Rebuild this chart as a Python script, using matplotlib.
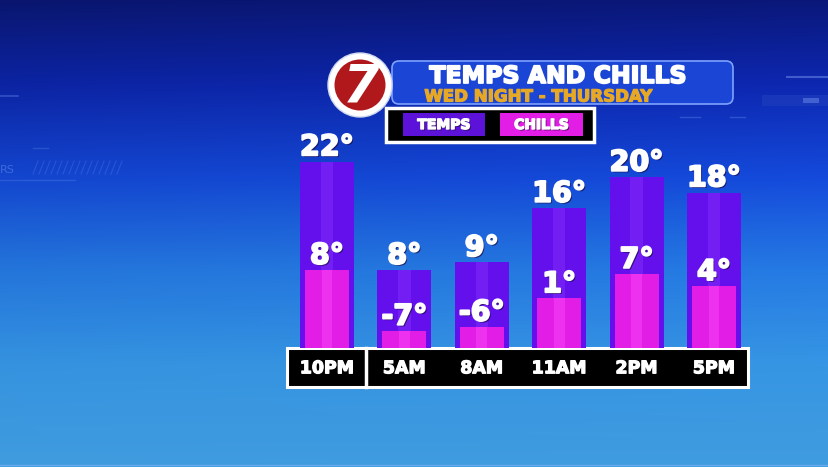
import numpy as np
import matplotlib
matplotlib.use("Agg")
import matplotlib.pyplot as plt
from matplotlib.patches import Rectangle, FancyBboxPatch, Circle
import matplotlib.patheffects as pe

# ---------------- data ----------------
times = ["10PM", "5AM", "8AM", "11AM", "2PM", "5PM"]
temps = [22, 8, 9, 16, 20, 18]
chills = [8, -7, -6, 1, 7, 4]
title = "TEMPS AND CHILLS"
subtitle = "WED NIGHT - THURSDAY"
legend_labels = ["TEMPS", "CHILLS"]

TEMP_COLOR = "#6410ec"
CHILL_COLOR = "#e21ee6"

W, H = 829, 467
fig = plt.figure(figsize=(W / 100, H / 100), dpi=100)

# ---------------- background ----------------
bg = fig.add_axes([0, 0, 1, 1])
bg.set_xlim(0, W)
bg.set_ylim(H, 0)
bg.axis("off")
stops_y = np.array([0.0, 0.18, 0.38, 0.58, 0.78, 1.0])
stops_c = np.array([
    [0.04, 0.09, 0.46],
    [0.05, 0.15, 0.68],
    [0.08, 0.29, 0.86],
    [0.15, 0.49, 0.91],
    [0.22, 0.61, 0.93],
    [0.27, 0.65, 0.93],
])
yy = np.linspace(0, 1, H)
xx = np.linspace(0, 1, W)
img = np.zeros((H, W, 3))
for k in range(3):
    col = np.interp(yy, stops_y, stops_c[:, k])
    img[:, :, k] = col[:, None]
img *= (0.94 + 0.1 * xx[None, :, None] * (1 - yy[:, None, None]))
img = np.clip(img, 0, 1)
bg.imshow(img, extent=[0, W, H, 0], aspect="auto", zorder=0)

# faint decorative elements
bg.plot([0, 18], [96, 96], color="#8fb0ff", alpha=0.3, lw=1.2)
bg.plot([0, 75], [180, 180], color="#8fb0ff", alpha=0.2, lw=1)
bg.plot([33, 48], [148, 148], color="#8fb0ff", alpha=0.2, lw=1)
bg.text(0, 170, "RS", color="#8fb0ff", alpha=0.35, fontsize=8, va="center")
for hx in np.arange(33, 118, 6):
    bg.plot([hx, hx + 5], [174, 161], color="#8fb0ff", alpha=0.18, lw=0.8)
bg.plot([787, 829], [77, 77], color="#8fb0ff", alpha=0.4, lw=1.5)
bg.add_patch(Rectangle((762, 95), 67, 11, color="#3050c0", alpha=0.3, lw=0))
bg.add_patch(Rectangle((803, 98), 16, 5, color="#8fb0ff", alpha=0.35, lw=0))
bg.plot([680, 700], [117, 117], color="#8fb0ff", alpha=0.25, lw=1)
bg.plot([730, 745], [117, 117], color="#8fb0ff", alpha=0.25, lw=1)
bg.plot([0, W], [465, 465], color="#a0c8ff", alpha=0.4, lw=1)

# ---------------- title panel ----------------
bg.add_patch(FancyBboxPatch((392, 61), 341, 43,
                            boxstyle="round,pad=0,rounding_size=7",
                            facecolor="#1b45d4", edgecolor="#7ea2ff", lw=1.2, zorder=2))
bg.text(558, 83, title, color="white", fontsize=17, fontweight="bold",
        ha="center", va="baseline", zorder=3,
        path_effects=[pe.withStroke(linewidth=1.3, foreground="white")])
bg.text(538, 101.5, subtitle, color="#e6a825", fontsize=12, fontweight="bold",
        ha="center", va="baseline", zorder=3,
        path_effects=[pe.withStroke(linewidth=0.9, foreground="#e6a825")])

# logo
bg.add_patch(Circle((360, 85), 32, facecolor="white", edgecolor="#d0d8f0", lw=1, zorder=4))
bg.add_patch(Circle((360, 85), 25.5, facecolor="#b0181c", edgecolor="none", zorder=5))
bg.text(361, 87, "7", color="white", fontsize=38, fontweight="bold", style="italic",
        ha="center", va="center", zorder=6)

# legend box
bg.add_patch(Rectangle((386, 108), 208, 34, facecolor="black", edgecolor="white", lw=2.5, zorder=2))
bg.add_patch(Rectangle((403, 113), 82, 23, facecolor="#5c12d8", edgecolor="none", zorder=3))
bg.add_patch(Rectangle((500, 113), 83, 23, facecolor=CHILL_COLOR, edgecolor="none", zorder=3))
leg_fx = [pe.withSimplePatchShadow(offset=(1, -1), shadow_rgbFace="#20103a", alpha=0.8),
          pe.withStroke(linewidth=1.0, foreground="white")]
bg.text(444, 125, legend_labels[0], color="white", fontsize=10, fontweight="bold",
        ha="center", va="center", zorder=4, path_effects=leg_fx)
bg.text(541.5, 125, legend_labels[1], color="white", fontsize=10, fontweight="bold",
        ha="center", va="center", zorder=4, path_effects=leg_fx)

# time label strip
bg.add_patch(Rectangle((287, 348), 461, 39, facecolor="black", edgecolor="white", lw=2.2, zorder=2))
bg.plot([366, 366], [348, 387], color="white", lw=2.5, zorder=3)

# ---------------- bars ----------------
LO = -11.2   # baseline value
K = 8.0      # knee of the display scale
S1 = 78.0 / (K - LO)
S2 = 7.75


def fwd(v):
    v = np.asarray(v, dtype=float)
    return np.where(v <= K, (v - LO) * S1, 78.0 + (v - K) * S2)


def inv(h):
    h = np.asarray(h, dtype=float)
    return np.where(h <= 78.0, h / S1 + LO, K + (h - 78.0) / S2)


left_px, right_px = 288.3, 752.7
bottom_px, top_px = 348, 100
ax = fig.add_axes([left_px / W, (H - bottom_px) / H,
                   (right_px - left_px) / W, (bottom_px - top_px) / H])
ax.set_facecolor("none")
ax.set_yscale("function", functions=(fwd, inv))
ax.set_xlim(-0.5, len(times) - 0.5)
ax.set_ylim(LO, float(inv(bottom_px - top_px)))
ax.axis("off")

x = np.arange(len(times))
t = np.array(temps, dtype=float)
c = np.array(chills, dtype=float)
ax.bar(x, t - LO, bottom=LO, width=0.70, color=TEMP_COLOR, zorder=2)
ax.bar(x, t - LO, bottom=LO, width=0.16, color="#8a38ff", alpha=0.4, zorder=2.1)
ax.bar(x, c - LO, bottom=LO, width=0.57, color=CHILL_COLOR, zorder=3)
ax.bar(x, c - LO, bottom=LO, width=0.14, color="#ff50ff", alpha=0.4, zorder=3.1)

val_fx = [pe.withSimplePatchShadow(offset=(1.2, -1.2), shadow_rgbFace="#1a0840", alpha=0.7),
          pe.withStroke(linewidth=1.4, foreground="white")]
for i in range(len(times)):
    ax.annotate(f"{temps[i]}°", (x[i], temps[i]), xytext=(0, 4.5), textcoords="offset points",
                ha="center", va="baseline", fontsize=20.5, fontweight="bold", color="white",
                path_effects=val_fx, zorder=5, annotation_clip=False)
    ax.annotate(f"{chills[i]}°", (x[i], chills[i]), xytext=(0, 4.5), textcoords="offset points",
                ha="center", va="baseline", fontsize=20.5, fontweight="bold", color="white",
                path_effects=val_fx, zorder=5, annotation_clip=False)

# time labels
lab = fig.add_axes([left_px / W, (H - 387) / H, (right_px - left_px) / W, 39 / H])
lab.set_facecolor("none")
lab.set_xlim(-0.5, len(times) - 0.5)
lab.set_ylim(0, 1)
lab.axis("off")
for i, tm in enumerate(times):
    lab.text(x[i], 0.48, tm, color="white", fontsize=12.5, fontweight="bold",
             ha="center", va="center",
             path_effects=[pe.withStroke(linewidth=0.9, foreground="white")])

fig.savefig("out.png", dpi=100)
